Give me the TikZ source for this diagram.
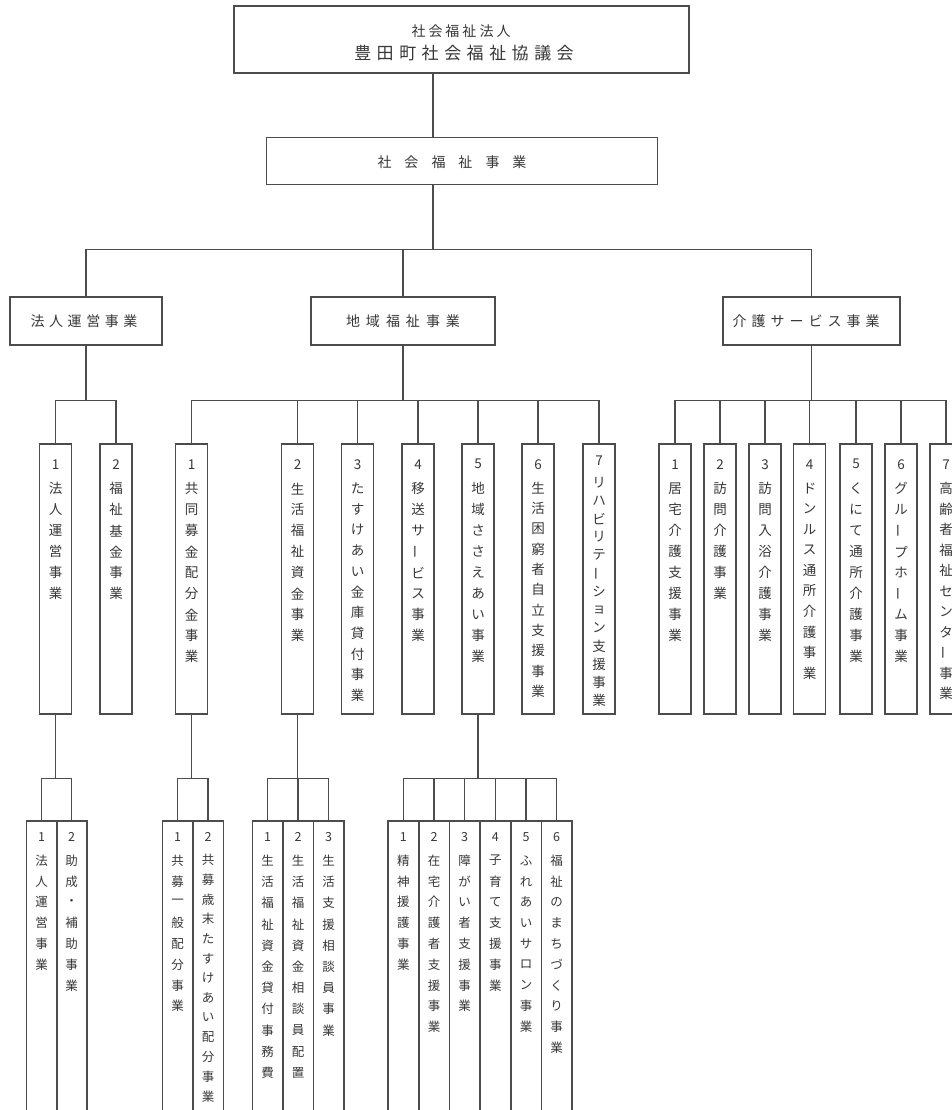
\documentclass[tikz,border=0pt]{standalone}
\usepackage{fontspec}
\usepackage{graphicx}
\setmainfont{Noto Sans CJK JP}
\definecolor{ink}{gray}{0.22}
\definecolor{lc}{gray}{0.30}
\newdimen\vtpitch
\def\vtloop#1{\ifx#1\relax\else\hbox to 1.4em{\hss\vbox to \vtpitch{\vfil\hbox{#1}\vfil}\hss}\expandafter\vtloop\fi}
\newcommand\vtext[4]{\vbox{\offinterlineskip\hbox to 1.4em{\hss\vbox to #1{\vfil\hbox{#3}\vfil}\hss}\vtpitch=#2\relax\vtloop#4\relax}}
\def\hspfirst#1{#1\hsprest}
\def\hsprest#1{\ifx#1\relax\else\kern\hspgap#1\expandafter\hsprest\fi}
\newcommand\spaced[2]{\def\hspgap{#1}\hspfirst#2\relax}
\newcommand\vbar{\rotatebox[origin=c]{90}{ー}}
\newcommand\Ltwo[5][21pt]{\node[lvtwo] (#2) at (#3,443) {};\node[txt,font=\fontsize{13.5}{14}\selectfont,anchor=north] (#2t) at ([yshift=-7pt]#2.north) {\vtext{28pt}{#1}{#4}{#5}};}
\newcommand\Lthree[5][20.8pt]{\node[lvthree] (#2) at (#3,820) {};\node[txt,font=\fontsize{12.5}{13}\selectfont,anchor=north] (#2t) at ([yshift=-4pt]#2.north) {\vtext{26pt}{#1}{#4}{#5}};}
\begin{document}
\begin{tikzpicture}[x=1pt,y=-1pt,
 ln/.style={draw=lc,line width=1.2pt},
 bx/.style={draw=lc,line width=1.5pt,rectangle,inner sep=0pt},
 lvtwo/.style={bx,anchor=north,minimum width=32pt,minimum height=270pt},
 lvthree/.style={bx,anchor=north,minimum width=30.5pt,minimum height=310pt},
 txt/.style={text=ink,inner sep=0pt}]
\useasboundingbox (0,0) rectangle (952,1110);
\clip (0,0) rectangle (952,1110);
\fill[white] (0,0) rectangle (952,1110);
% top boxes
\node[bx,minimum width=455pt,minimum height=67pt] (top) at (461.5,39.5) {};
\node[txt,font=\fontsize{14}{14}\selectfont] (t1) at (461,31) {\spaced{3pt}{社会福祉法人}};
\node[txt,font=\fontsize{17}{17}\selectfont] (t2) at (464,53) {\spaced{5.5pt}{豊田町社会福祉協議会}};
\node[bx,minimum width=391pt,minimum height=47pt] (sw) at (462,161) {};
\node[txt,font=\fontsize{14}{14}\selectfont] (swt) at (452,162) {\spaced{13pt}{社会福祉事業}};
% level 1
\node[bx,minimum width=152pt,minimum height=48pt] (L1) at (86,321) {};
\node[bx,minimum width=184pt,minimum height=48pt] (L2) at (403,321) {};
\node[bx,minimum width=177pt,minimum height=48pt] (L3) at (811.5,321) {};
\node[txt,font=\fontsize{14}{14}\selectfont] (L1t) at (84,321) {\spaced{4.6pt}{法人運営事業}};
\node[txt,font=\fontsize{14}{14}\selectfont] (L2t) at (403,321) {\spaced{6pt}{地域福祉事業}};
\node[txt,font=\fontsize{14}{14}\selectfont] (L3t) at (806,321) {\spaced{5pt}{介護サービス事業}};
% level 2
\Ltwo{a1}{55.5}{1}{法人運営事業}
\Ltwo{a2}{116}{2}{福祉基金事業}
\Ltwo{b1}{191.5}{1}{共同募金配分金事業}
\Ltwo{b2}{297.5}{2}{生活福祉資金事業}
\Ltwo[20.7pt]{b3}{357.5}{3}{たすけあい金庫貸付事業}
\Ltwo{b4}{418}{4}{移送サ\vbar ビス事業}
\Ltwo{b5}{478}{5}{地域ささえあい事業}
\Ltwo[20.3pt]{b6}{538}{6}{生活困窮者自立支援事業}
\node[lvtwo] (b7) at (599,443) {};
\node[txt,font=\fontsize{13.5}{14}\selectfont,anchor=north] (b7t) at ([yshift=-5pt]b7.north) {\vtext{25pt}{18.2pt}{7}{リハビリテ\vbar ション支援事業}};
\Ltwo{c1}{675}{1}{居宅介護支援事業}
\Ltwo{c2}{720}{2}{訪問介護事業}
\Ltwo{c3}{765}{3}{訪問入浴介護事業}
\Ltwo[20.5pt]{c4}{809.5}{4}{ドンルス通所介護事業}
\Ltwo{c5}{856}{5}{くにて通所介護事業}
\Ltwo{c6}{901}{6}{グル\vbar プホ\vbar ム事業}
\Ltwo[20.5pt]{c7}{946}{7}{高齢者福祉センタ\vbar 事業}
% level 3
\Lthree{d1}{41.5}{1}{法人運営事業}
\Lthree{d2}{71.5}{2}{助成・補助事業}
\Lthree{e1}{177.5}{1}{共募一般配分事業}
\Lthree[19.7pt]{e2}{208}{2}{共募歳末たすけあい配分事業}
\Lthree[21.2pt]{f1}{267.5}{1}{生活福祉資金貸付事務費}
\Lthree[21.2pt]{f2}{298}{2}{生活福祉資金相談員配置}
\Lthree[21.2pt]{f3}{328.5}{3}{生活支援相談員事業}
\Lthree{h1}{403.3}{1}{精神援護事業}
\Lthree{h2}{434}{2}{在宅介護者支援事業}
\Lthree{h3}{464.7}{3}{障がい者支援事業}
\Lthree{h4}{495.3}{4}{子育て支援事業}
\Lthree{h5}{526}{5}{ふれあいサロン事業}
\Lthree{h6}{556.7}{6}{福祉のまちづくり事業}
% connectors
\coordinate (c0) at (433,100);
\draw[ln] (top.south -| c0) -- (sw.north -| c0);
\draw[ln] (sw.south -| c0) -- ++(0,64) coordinate (j0);
\foreach \n in {L1,L2,L3} \draw[ln] (j0) -| (\n.north);
\draw[ln] (L1.south) -- ++(0,55) coordinate (j1);
\foreach \n in {a1,a2} \draw[ln] (j1) -| (\n.north);
\draw[ln] (L2.south) -- ++(0,55) coordinate (j2);
\foreach \n in {b1,b2,b3,b4,b5,b6,b7} \draw[ln] (j2) -| (\n.north);
\draw[ln] (L3.south) -- ++(0,55) coordinate (j3);
\foreach \n in {c1,c2,c3,c4,c5,c6,c7} \draw[ln] (j3) -| (\n.north);
\draw[ln] (a1.south) -- ++(0,64) coordinate (k1);
\foreach \n in {d1,d2} \draw[ln] (k1) -| (\n.north);
\draw[ln] (b1.south) -- ++(0,64) coordinate (k2);
\foreach \n in {e1,e2} \draw[ln] (k2) -| (\n.north);
\draw[ln] (b2.south) -- ++(0,64) coordinate (k3);
\foreach \n in {f1,f2,f3} \draw[ln] (k3) -| (\n.north);
\draw[ln] (b5.south) -- ++(0,64) coordinate (k4);
\foreach \n in {h1,h2,h3,h4,h5,h6} \draw[ln] (k4) -| (\n.north);
\end{tikzpicture}
\end{document}
